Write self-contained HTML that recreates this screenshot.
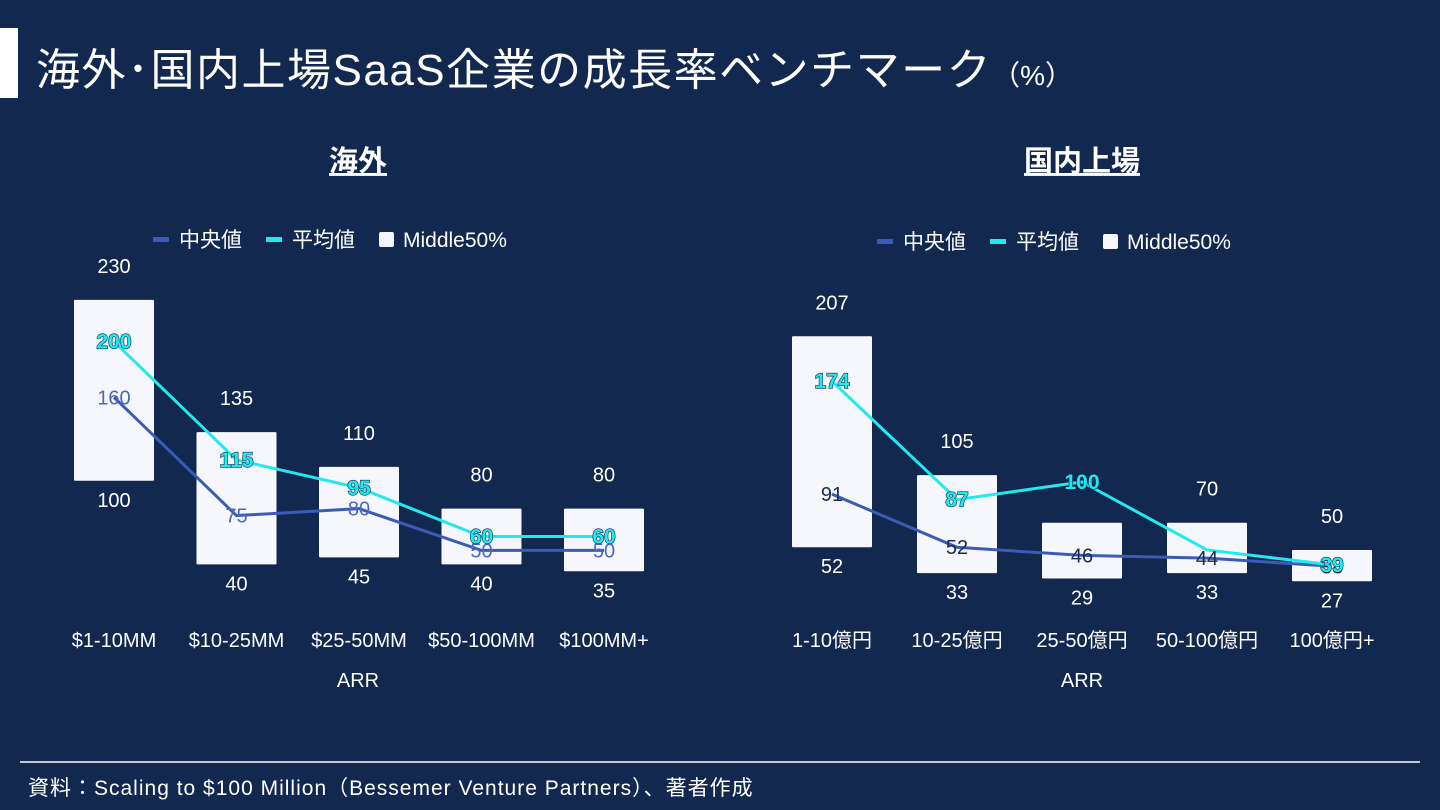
<!DOCTYPE html>
<html><head><meta charset="utf-8">
<style>
body{margin:0;width:1440px;height:810px;background:#13284f;overflow:hidden;font-family:"Liberation Sans","Noto Sans CJK JP",sans-serif;}
svg{position:absolute;left:0;top:0}
</style></head>
<body>
<svg id="s" width="1440" height="810" xmlns="http://www.w3.org/2000/svg" font-family="Liberation Sans, Noto Sans CJK JP, sans-serif">
<rect x="0" y="28" width="18" height="70" fill="#ffffff"/>
<text x="36" y="85" fill="#fff" font-size="44" letter-spacing="1.5">海外･国内上場SaaS企業の成長率ベンチマーク<tspan font-size="28" letter-spacing="0">（%）</tspan></text>
<line x1="20" y1="762" x2="1420" y2="762" stroke="#ffffff" stroke-width="1.5"/>
<text x="28" y="795" fill="#fff" font-size="21" letter-spacing="1">資料：Scaling to $100 Million（Bessemer Venture Partners）、著者作成</text>
<g id="charts"></g>
</svg>
<script>
// Chart 1: 海外
const cats1=["$1-10MM","$10-25MM","$25-50MM","$50-100MM","$100MM+"];
const hi1=[230,135,110,80,80];
const lo1=[100,40,45,40,35];
const med1=[160,75,80,50,50];
const mean1=[200,115,95,60,60];
// Chart 2: 国内上場
const cats2=["1-10億円","10-25億円","25-50億円","50-100億円","100億円+"];
const hi2=[207,105,70,70,50];
const lo2=[52,33,29,33,27];
const med2=[91,52,46,44,38];
const mean2=[174,87,100,50,39];
const meanLabelShow2=[true,true,true,false,true];
const hiLabelShow2=[true,true,false,true,true];

const NS="http://www.w3.org/2000/svg";
const root=document.getElementById('charts');
function el(tag,attrs,parent){const e=document.createElementNS(NS,tag);for(const k in attrs)e.setAttribute(k,attrs[k]);(parent||root).appendChild(e);return e;}
function txt(str,attrs,parent){const t=el('text',attrs,parent);t.textContent=str;return t;}

function chart(cfg){
  const g=el('g',{});
  
  
  const y=v=>cfg.y0-v*cfg.k;
  const x=i=>cfg.x0+i*cfg.step;
  const t=txt(cfg.title,{x:cfg.cx,y:171,fill:'#fff','font-size':29,'font-weight':'bold','text-anchor':'middle','text-decoration':'underline'},g);
  
  
  const lg=el('g',{},g);
  
  
  const lx=cfg.cx-205, ly=cfg.legY;
  el('rect',{x:lx,y:ly-3,width:16,height:5,fill:'#3a5cb8'},lg);
  txt('中央値',{x:lx+26,y:ly+7,fill:'#fff','font-size':21},lg);
  el('rect',{x:lx+113,y:ly-3,width:16,height:5,fill:'#22e8f0'},lg);
  txt('平均値',{x:lx+139,y:ly+7,fill:'#fff','font-size':21},lg);
  el('rect',{x:lx+226,y:ly-8,width:15,height:15,fill:'#f6f7fc',rx:2},lg);
  txt('Middle50%',{x:lx+250,y:ly+7,fill:'#fff','font-size':21},lg);
  for(let i=0;i<cfg.hi.length;i++){
    const b=el('rect',{x:x(i)-40,y:y(cfg.hi[i]),width:80,height:y(cfg.lo[i])-y(cfg.hi[i]),fill:'#f6f7fc',rx:1},g);
    
    
    if(!cfg.hiShow || cfg.hiShow[i]) txt(cfg.hi[i],{x:x(i),y:y(cfg.hi[i])-27,fill:'#fff','font-size':20,'text-anchor':'middle'},g);
    txt(cfg.lo[i],{x:x(i),y:y(cfg.lo[i])+26,fill:'#fff','font-size':20,'text-anchor':'middle'},g);
    const c=txt(cfg.cats[i],{x:x(i),y:647,fill:'#fff','font-size':20,'text-anchor':'middle'},g);
    
    
  }
  const a=txt('ARR',{x:cfg.cx,y:687,fill:'#fff','font-size':20,'text-anchor':'middle'},g);
  
  
  const pts=arr=>arr.map((v,i)=>x(i)+','+y(v)).join(' ');
  const ml=el('polyline',{points:pts(cfg.med),fill:'none',stroke:'#3a5cb8','stroke-width':3},g);
  
  
  const al=el('polyline',{points:pts(cfg.mean),fill:'none',stroke:'#22e8f0','stroke-width':3},g);
  
  
  for(let i=0;i<cfg.med.length;i++){
    txt(cfg.med[i],{x:x(i),y:y(cfg.med[i])+7,fill:cfg.medLabel,'font-size':20,'text-anchor':'middle'},g);
  }
  for(let i=0;i<cfg.mean.length;i++){
    if(cfg.show && !cfg.show[i]) continue;
    txt(cfg.mean[i],{x:x(i),y:y(cfg.mean[i])+7,fill:'#22e8f0',stroke:'#0d2a4a','stroke-width':1.2,'font-size':21,'font-weight':'bold','text-anchor':'middle','paint-order':'stroke'},g);
  }
}
chart({name:'overseas-chart',title:'海外',cx:358,legY:240,x0:114,step:122.5,y0:620,k:1.392,cats:cats1,hi:hi1,lo:lo1,med:med1,mean:mean1,medLabel:'#4a68c0'});
chart({name:'domestic-chart',title:'国内上場',cx:1082,legY:242,x0:832,step:125,y0:618,k:1.361,cats:cats2,hi:hi2,lo:lo2,med:med2,mean:mean2,medLabel:'#1a2a50',show:meanLabelShow2,hiShow:hiLabelShow2});
</script>
</body></html>
